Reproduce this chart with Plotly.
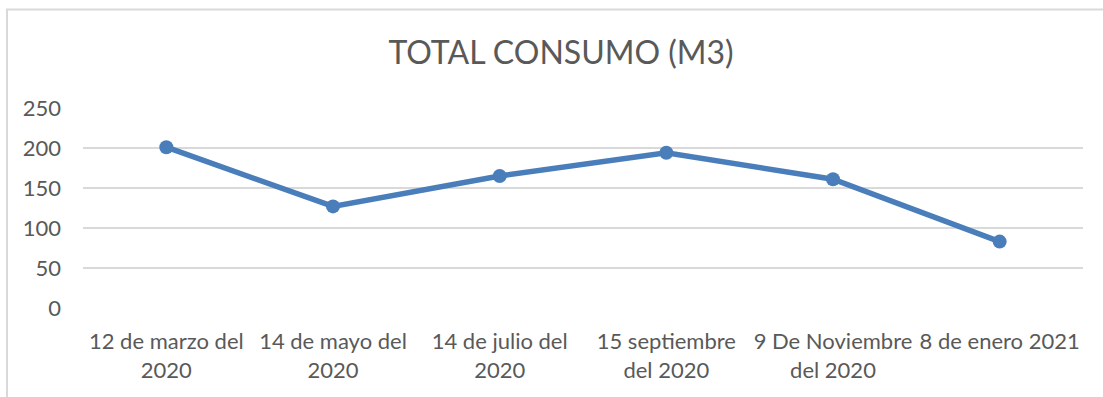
import plotly.graph_objects as go

# Fechas de lectura y consumo total en m3
fechas = [
    "12 de marzo del<br>2020",
    "14 de mayo del<br>2020",
    "14 de julio del<br>2020",
    "15 septiembre<br>del 2020",
    "9 De Noviembre<br>del 2020",
    "8 de enero 2021",
]
consumo = [201, 127, 165, 194, 161, 83]

y_ticks = [0, 50, 100, 150, 200, 250]

W, H = 1103, 397
L, R, T, B = 83, 20, 108, 89
plot_w = W - L - R
plot_h = H - T - B

def px_x(px):
    return (px - L) / plot_w

def px_y(py):
    return (H - B - py) / plot_h

line_color = "#4a7ebb"
text_color = "#595959"
grid_color = "#d9d9d9"
font_family = "Lato, 'Open Sans', sans-serif"

fig = go.Figure(
    go.Scatter(
        x=list(range(len(fechas))),
        y=consumo,
        mode="lines+markers",
        line=dict(color=line_color, width=5.5),
        marker=dict(color=line_color, size=14),
        hoverinfo="skip",
    )
)

fig.update_layout(
    width=W,
    height=H,
    margin=dict(l=L, r=R, t=T, b=B),
    paper_bgcolor="white",
    plot_bgcolor="white",
    showlegend=False,
    font=dict(family=font_family, color=text_color, size=22),
    title=dict(
        text="TOTAL CONSUMO (M3)",
        x=561 / W,
        xref="container",
        xanchor="center",
        y=1 - 53 / H,
        yref="container",
        yanchor="middle",
        font=dict(family=font_family, size=32, color=text_color),
    ),
    xaxis=dict(
        tickmode="array",
        tickvals=list(range(len(fechas))),
        ticktext=fechas,
        range=[-0.5, len(fechas) - 0.5],
        showgrid=False,
        zeroline=False,
        showline=False,
        ticks="",
        ticklabelstandoff=18,
        tickfont=dict(size=22, color=text_color),
    ),
    yaxis=dict(
        range=[0, 250],
        tickvals=y_ticks,
        showgrid=True,
        gridcolor=grid_color,
        gridwidth=1.5,
        zeroline=False,
        showline=False,
        ticks="",
        ticklabelstandoff=21,
        tickfont=dict(size=22, color=text_color),
    ),
    shapes=[
        dict(
            type="rect",
            xref="paper",
            yref="paper",
            x0=px_x(7),
            x1=px_x(1115),
            y0=px_y(410),
            y1=px_y(9.5),
            line=dict(color=grid_color, width=2),
            fillcolor="rgba(0,0,0,0)",
            layer="below",
        )
    ],
)

fig.write_html("out.html")
